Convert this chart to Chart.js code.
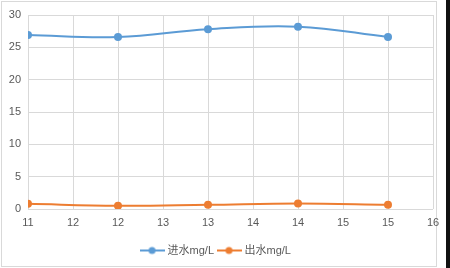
<!DOCTYPE html>
<html>
<head>
<meta charset="utf-8">
<script src="https://cdn.jsdelivr.net/npm/chart.js@4"></script>
<style>
  body { margin: 0; background: #fff; }
  #wrap { position: relative; width: 450px; height: 268px; overflow: hidden; }
  #frame { position: absolute; left: 1px; top: 1px; width: 434px; height: 264px; border: 1px solid #d9d9d9; }
  #edge { position: absolute; left: 446px; top: 0; width: 4px; height: 268px; background: #111; }
  canvas { position: absolute; left: 0; top: 0; }
</style>
</head>
<body>
<div id="wrap">
  <div id="frame"></div>
  <canvas id="chart" width="450" height="268"></canvas>
  <div id="edge"></div>
</div>
<script>
// x positions (days) and readings
const days = [11, 12, 13, 14, 15];
const influent = [26.9, 26.6, 27.8, 28.2, 26.6];
const effluent = [0.8, 0.5, 0.65, 0.85, 0.65];
const seriesNames = ['进水mg/L', '出水mg/L'];
const seriesColors = ['#5B9BD5', '#ED7D31'];
const yTicks = [0, 5, 10, 15, 20, 25, 30];

const font = { family: "'Liberation Sans', 'Noto Sans CJK SC', sans-serif", size: 11 };

// legend marker: short line with a dot in the middle
function legendMarker(color) {
    const c = document.createElement('canvas');
    c.width = 25; c.height = 10;
    const g = c.getContext('2d');
    g.strokeStyle = color; g.lineWidth = 2;
    g.beginPath(); g.moveTo(0, 5); g.lineTo(25, 5); g.stroke();
    g.fillStyle = color;
    g.beginPath(); g.arc(12.5, 5, 3.5, 0, Math.PI * 2); g.fill();
    return c;
}

const ds = [influent, effluent].map((vals, i) => ({
    label: seriesNames[i],
    data: days.map((d, j) => ({ x: d, y: vals[j] })),
    borderColor: seriesColors[i],
    backgroundColor: seriesColors[i],
    borderWidth: 2,
    pointRadius: 4,
    pointBorderWidth: 0,
    tension: 0.4,
    pointStyle: 'circle',
    legendStyle: legendMarker(seriesColors[i])
}));

new Chart(document.getElementById('chart'), {
    type: 'line',
    data: { datasets: ds },
    options: {
        responsive: false,
        animation: false,
        layout: { padding: { top: 15, right: 17, left: 0, bottom: 2 } },
        scales: {
            x: {
                type: 'linear', min: 11, max: 15.5,
                grid: { color: '#d9d9d9', drawTicks: false },
                border: { display: false },
                ticks: { stepSize: 0.5, color: '#595959', font: font, padding: 7, maxRotation: 0,
                    callback: v => String(Math.round(v)) },
                afterFit: s => { s.height = 31; }
            },
            y: {
                min: 0, max: 30,
                grid: { color: '#d9d9d9', drawTicks: false },
                border: { display: false },
                afterBuildTicks: s => { s.ticks = yTicks.map(v => ({ value: v })); },
                ticks: { color: '#595959', font: font, padding: 7 },
                afterFit: s => { s.width = 28; }
            }
        },
        plugins: {
            legend: {
                position: 'bottom',
                labels: {
                    usePointStyle: true, pointStyleWidth: 20, boxHeight: 10,
                    color: '#595959', font: font, padding: 5,
                    generateLabels: chart => chart.data.datasets.map((d, i) => ({
                        text: d.label, pointStyle: d.legendStyle, fontColor: '#595959',
                        strokeStyle: d.borderColor, fillStyle: d.borderColor, lineWidth: 0, datasetIndex: i
                    }))
                }
            },
            tooltip: { enabled: false }
        }
    }
});
</script>
</body>
</html>
